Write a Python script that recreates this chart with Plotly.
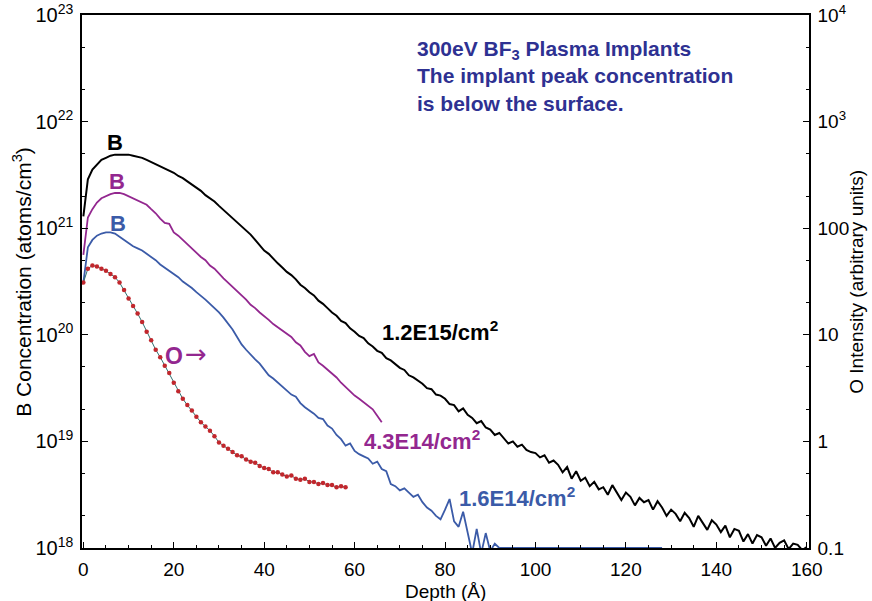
import plotly.graph_objects as go

# ---------------- data ----------------
# B concentration (atoms/cm3), 1 Angstrom steps starting at 0
b_1p2e15 = [
    1.29e21, 2.88e21, 3.55e21, 3.98e21, 4.37e21, 4.57e21, 4.79e21, 4.90e21, 4.90e21, 4.90e21,
    4.90e21, 4.79e21, 4.68e21, 4.57e21, 4.37e21, 4.17e21, 3.98e21, 3.80e21, 3.63e21, 3.47e21,
    3.31e21, 3.09e21, 2.95e21, 2.75e21, 2.57e21, 2.40e21, 2.24e21, 2.04e21, 1.91e21, 1.78e21,
    1.62e21, 1.48e21, 1.38e21, 1.26e21, 1.15e21, 1.05e21, 9.55e20, 8.71e20, 7.76e20, 6.92e20,
    6.17e20, 5.75e20, 5.13e20, 4.68e20, 4.27e20, 3.89e20, 3.63e20, 3.31e20, 2.95e20, 2.75e20,
    2.51e20, 2.34e20, 2.09e20, 1.95e20, 1.78e20, 1.62e20, 1.51e20, 1.35e20, 1.29e20, 1.15e20,
    1.07e20, 9.77e19, 9.33e19, 8.32e19, 7.76e19, 7.08e19, 6.76e19, 6.03e19, 5.75e19, 5.25e19,
    4.90e19, 4.68e19, 4.17e19, 3.98e19, 3.72e19, 3.47e19, 3.16e19, 3.09e19, 2.75e19, 2.69e19,
    2.51e19, 2.24e19, 2.19e19, 1.91e19, 2.04e19, 1.78e19, 1.66e19, 1.48e19, 1.55e19, 1.35e19,
    1.29e19, 1.15e19, 1.20e19, 1.07e19, 9.55e18, 1.00e19, 8.91e18, 9.33e18, 8.32e18, 7.94e18,
    7.76e18, 7.08e18, 7.41e18, 6.31e18, 6.61e18, 6.03e18, 5.13e18, 5.75e18, 4.47e18, 5.25e18,
    4.27e18, 4.57e18, 3.80e18, 4.17e18, 3.55e18, 3.72e18, 3.16e18, 3.89e18, 3.31e18, 2.82e18,
    3.31e18, 3.02e18, 2.51e18, 2.95e18, 2.69e18, 2.82e18, 2.29e18, 2.75e18, 2.40e18, 2.00e18,
    2.29e18, 2.09e18, 1.78e18, 2.14e18, 1.91e18, 1.58e18, 2.00e18, 1.74e18, 1.48e18, 1.82e18,
    1.66e18, 1.41e18, 1.62e18, 1.26e18, 1.51e18, 1.45e18, 1.15e18, 1.35e18, 1.10e18, 1.32e18,
    1.26e18, 1.05e18, 1.23e18, 1.00e18, 1.12e18, 1.18e18, 9.77e17, 1.10e18, 1.07e18, 9.55e17,
    1.02e18,
]

b_4p3e14 = [
    5.62e20, 1.26e21, 1.51e21, 1.74e21, 1.91e21, 2.00e21, 2.09e21, 2.14e21, 2.14e21, 2.09e21,
    2.00e21, 1.91e21, 1.82e21, 1.74e21, 1.66e21, 1.51e21, 1.38e21, 1.23e21, 1.12e21, 1.10e21,
    9.12e20, 8.51e20, 7.76e20, 7.08e20, 6.46e20, 5.89e20, 5.37e20, 5.01e20, 4.47e20, 4.17e20,
    3.72e20, 3.39e20, 3.09e20, 2.82e20, 2.57e20, 2.34e20, 2.14e20, 1.91e20, 1.78e20, 1.62e20,
    1.51e20, 1.38e20, 1.26e20, 1.18e20, 1.10e20, 1.02e20, 9.55e19, 8.51e19, 7.94e19, 6.92e19,
    6.31e19, 6.61e19, 5.50e19, 5.13e19, 4.68e19, 4.27e19, 3.98e19, 3.55e19, 3.24e19, 2.95e19,
    2.69e19, 2.51e19, 2.34e19, 2.14e19, 2.00e19, 1.74e19, 1.51e19,
]

b_1p6e14 = [
    3.09e20, 6.61e20, 7.76e20, 8.51e20, 8.91e20, 9.12e20, 9.12e20, 8.91e20, 8.32e20, 7.76e20,
    7.24e20, 6.76e20, 6.46e20, 6.17e20, 5.75e20, 5.37e20, 5.01e20, 4.57e20, 4.27e20, 3.98e20,
    3.72e20, 3.47e20, 3.16e20, 2.95e20, 2.75e20, 2.51e20, 2.34e20, 2.14e20, 1.95e20, 1.78e20,
    1.62e20, 1.45e20, 1.29e20, 1.12e20, 9.55e19, 8.13e19, 7.24e19, 6.46e19, 5.89e19, 5.37e19,
    4.79e19, 4.17e19, 3.89e19, 3.55e19, 3.24e19, 3.02e19, 2.75e19, 2.63e19, 2.29e19, 2.09e19,
    1.95e19, 1.82e19, 1.66e19, 1.62e19, 1.41e19, 1.32e19, 1.15e19, 1.05e19, 9.12e18, 9.55e18,
    8.13e18, 7.59e18, 7.24e18, 6.92e18, 6.17e18, 6.46e18, 5.50e18, 5.25e18, 3.98e18, 3.80e18,
    3.47e18, 3.63e18, 3.31e18, 3.02e18, 3.16e18, 2.69e18, 2.40e18, 2.24e18, 2.00e18, 1.86e18,
    2.29e18, 2.88e18, 1.78e18, 1.58e18, 2.19e18, 1.41e18, 8.91e17, 1.51e18, 8.91e17, 1.38e18,
    9.33e17, 1.10e18, 1.00e18, 1.00e18, 1.00e18, 1.00e18, 1.00e18, 1.00e18, 1.00e18, 1.00e18,
    1.00e18, 1.00e18, 1.00e18, 1.00e18, 1.00e18, 1.00e18, 1.00e18, 1.00e18, 1.00e18, 1.00e18,
    1.00e18, 1.00e18, 1.00e18, 1.00e18, 1.00e18, 1.00e18, 1.00e18, 1.00e18, 1.00e18, 1.00e18,
    1.00e18, 1.00e18, 1.00e18, 1.00e18, 1.00e18, 1.00e18, 1.00e18, 1.00e18, 1.00e18,
]

# O intensity (arbitrary units, right axis)
o_intensity = [
    30.9, 41.7, 44.7, 43.7, 41.7, 39.8, 37.2, 34.7, 30.9, 26.3,
    21.9, 18.6, 15.8, 13.2, 10.7, 8.91, 7.24, 6.17, 5.13, 4.37,
    3.55, 2.95, 2.51, 2.19, 1.95, 1.70, 1.51, 1.38, 1.26, 1.12,
    0.977, 0.912, 0.851, 0.794, 0.741, 0.724, 0.676, 0.646, 0.631, 0.589,
    0.562, 0.550, 0.513, 0.513, 0.490, 0.468, 0.479, 0.447, 0.437, 0.447,
    0.417, 0.417, 0.398, 0.407, 0.389, 0.389, 0.372, 0.380, 0.372,
]

depth_black = list(range(len(b_1p2e15)))
depth_purple = list(range(len(b_4p3e14)))
depth_blue = list(range(len(b_1p6e14)))
depth_o = list(range(len(o_intensity)))

x_ticks = [0, 20, 40, 60, 80, 100, 120, 140, 160]
left_tickvals = [1e18, 1e19, 1e20, 1e21, 1e22, 1e23]
left_ticktext = ["10<sup>18</sup>", "10<sup>19</sup>", "10<sup>20</sup>",
                 "10<sup>21</sup>", "10<sup>22</sup>", "10<sup>23</sup>"]
right_tickvals = [0.1, 1, 10, 100, 1000, 10000]
right_ticktext = ["0.1", "1", "10", "100", "10<sup>3</sup>", "10<sup>4</sup>"]

# ---------------- styling ----------------
BLACK = "#000000"
PURPLE = "#93278f"
BLUE = "#3b5ba8"
NAVY = "#2e3192"
RED = "#c1272d"
FONT = "Liberation Sans, Arial, sans-serif"

fig = go.Figure()
fig.add_trace(go.Scatter(x=depth_black, y=b_1p2e15, mode="lines",
                         line=dict(color=BLACK, width=2), yaxis="y"))
fig.add_trace(go.Scatter(x=depth_purple, y=b_4p3e14, mode="lines",
                         line=dict(color=PURPLE, width=1.8), yaxis="y"))
fig.add_trace(go.Scatter(x=depth_blue, y=b_1p6e14, mode="lines",
                         line=dict(color=BLUE, width=1.8), yaxis="y"))
fig.add_trace(go.Scatter(x=depth_o, y=o_intensity, mode="lines+markers",
                         line=dict(color="#2f6f6f", width=1),
                         marker=dict(color=RED, size=4.5, symbol="circle"),
                         yaxis="y2"))

common_log = dict(
    type="log", ticks="inside", ticklen=6, tickcolor="black", tickwidth=1,
    minor=dict(ticks="inside", ticklen=3, tickcolor="black", showgrid=False),
    showline=True, linecolor="black", linewidth=1.5,
    showgrid=False, zeroline=False, automargin=False, ticklabeloverflow="allow",
)

fig.update_layout(
    width=872, height=601,
    margin=dict(l=82, r=63, t=15, b=53),
    paper_bgcolor="white", plot_bgcolor="white",
    showlegend=False,
    font=dict(family=FONT, size=20, color="black"),
    xaxis=dict(
        range=[-0.3, 160.5], tickvals=x_ticks, ticks="inside", ticklen=6,
        tickwidth=1, tickcolor="black",
        minor=dict(dtick=5, ticks="inside", ticklen=3, tickcolor="black"),
        showline=True, linecolor="black", linewidth=1.5, mirror=True,
        showgrid=False, zeroline=False, automargin=False, ticklabeloverflow="allow",
        tickfont=dict(size=19), ticklabelstandoff=3,
    ),
    yaxis=dict(range=[18, 23], tickvals=left_tickvals, ticktext=left_ticktext,
               ticklabelstandoff=3, tickfont=dict(size=20), **common_log),
    yaxis2=dict(range=[-1, 4], overlaying="y", side="right",
                tickvals=right_tickvals, ticktext=right_ticktext,
                ticklabelstandoff=3, tickfont=dict(size=19), **common_log),
)

# axis titles
fig.add_annotation(text="Depth (Å)", xref="paper", yref="paper", x=0.5, y=-0.082,
                   xanchor="center", yanchor="middle", showarrow=False,
                   font=dict(family=FONT, size=19, color="black"))
fig.add_annotation(text="B Concentration (atoms/cm<sup>3</sup>)", xref="paper", yref="paper",
                   x=-0.0835, y=0.5, xanchor="center", yanchor="middle", textangle=-90,
                   showarrow=False, font=dict(family=FONT, size=21, color="black"))
fig.add_annotation(text="O Intensity (arbitrary units)", xref="paper", yref="paper",
                   x=1.065, y=0.5, xanchor="center", yanchor="middle", textangle=-90,
                   showarrow=False, font=dict(family=FONT, size=19, color="black"))

def label(text, x, ylog, color, size=20, family=FONT):
    fig.add_annotation(text=text, x=x, y=ylog, xref="x", yref="y",
                       xanchor="center", yanchor="middle", showarrow=False,
                       font=dict(family=family, size=size, color=color))

label("<b>B</b>", 7.0, 21.80, BLACK, size=22)
label("<b>B</b>", 7.4, 21.44, PURPLE, size=22)
label("<b>B</b>", 7.6, 21.04, BLUE, size=22)
label("<b>O</b>", 20.0, 19.80, PURPLE, size=23)
label("→", 24.9, 19.82, PURPLE, size=26, family="DejaVu Sans, sans-serif")
label("<b>1.2E15/cm<sup>2</sup></b>", 78.9, 20.04, BLACK, size=22)
label("<b>4.3E14/cm<sup>2</sup></b>", 74.9, 19.01, PURPLE, size=22)
label("<b>1.6E14/cm<sup>2</sup></b>", 95.9, 18.48, BLUE, size=22)

fig.add_annotation(
    text="<b>300eV BF<sub>3</sub> Plasma Implants<br>The implant peak concentration<br>"
         "is below the surface.</b>",
    xref="paper", yref="paper", x=0.458, y=0.885, xanchor="left", yanchor="middle",
    align="left", showarrow=False, font=dict(family=FONT, size=21, color=NAVY),
)

# remove the browser's default page margin so the figure fills the window exactly
fig.write_html("out.html", config={"displayModeBar": False},
               post_script="document.body.style.margin='0';document.body.style.padding='0';")
